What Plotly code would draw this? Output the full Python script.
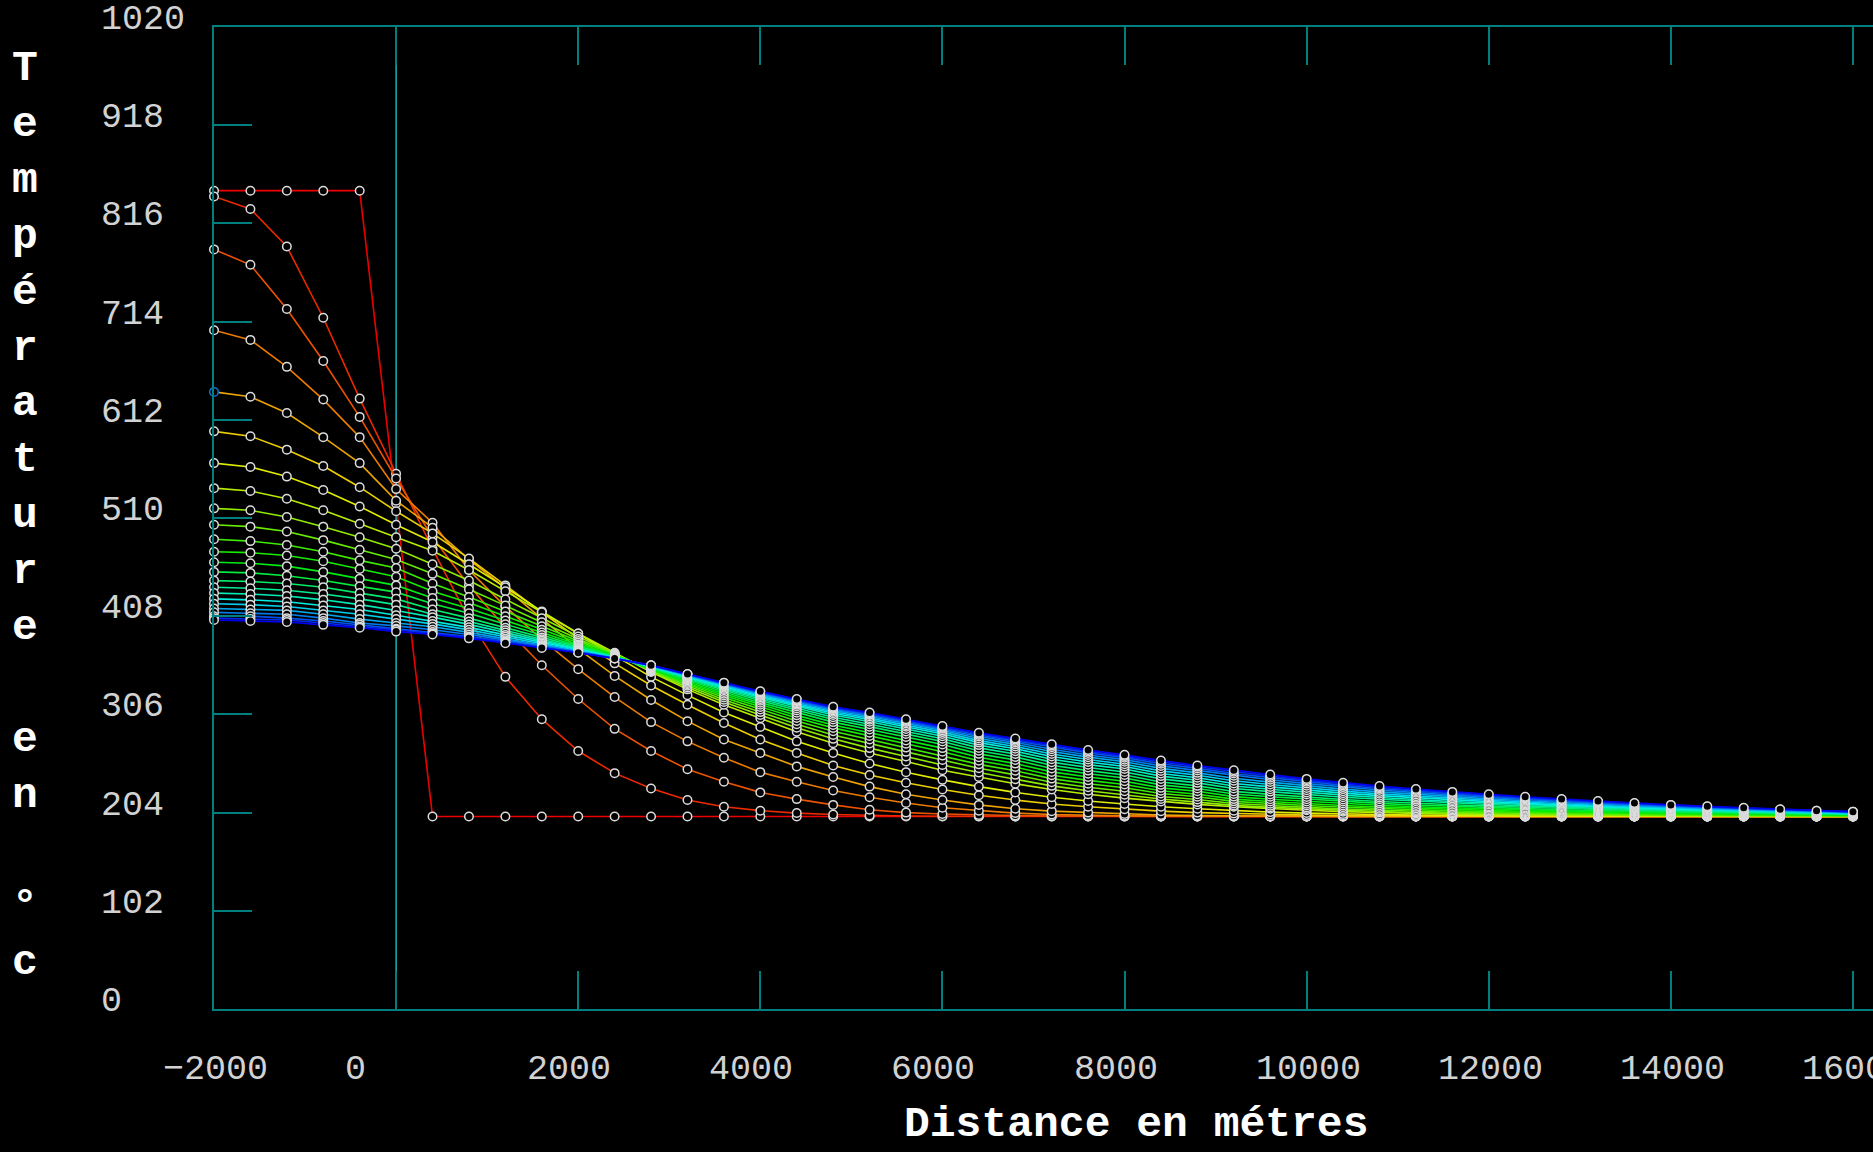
import colorsys
import plotly.graph_objects as go

# ---------------- data ----------------
distance_m = [-2000, -1600, -1200, -800, -400, 0, 400, 800, 1200, 1600, 2000, 2400,
              2800, 3200, 3600, 4000, 4400, 4800, 5200, 5600, 6000, 6400, 6800, 7200,
              7600, 8000, 8400, 8800, 9200, 9600, 10000, 10400, 10800, 11200, 11600,
              12000, 12400, 12800, 13200, 13600, 14000, 14400, 14800, 15200, 15600, 16000]

serie_00 = [850, 850, 850, 850, 850, 525, 200, 200, 200, 200, 200, 200, 200, 200, 200, 200,
            200, 200, 200, 200, 200, 200, 200, 200, 200, 200, 200, 200, 200, 200, 200, 200,
            200, 200, 200, 200, 200, 200, 200, 200, 200, 200, 200, 200, 200, 200]
serie_01 = [844, 831, 792, 718, 634, 556, 478, 405, 345, 301, 268, 245, 229, 217, 210, 206,
            203.5, 202, 201, 200.5, 200.2, 200.1, 200, 200, 200, 200, 200, 200, 200, 200, 200,
            200, 200, 200, 200, 200, 200, 200, 200, 200, 200, 200, 200, 200, 200, 200]
serie_02 = [789, 773, 727, 673, 615, 551, 490, 440, 396, 357, 322, 291, 268, 249, 236, 225,
            218, 212, 207, 204, 202.5, 201.5, 201, 200.5, 200.2, 200.1, 200, 200, 200, 200, 200,
            200, 200, 200, 200, 200, 200, 200, 200, 200, 200, 200, 200, 200, 200, 200]
serie_03 = [705, 695, 667, 633, 594, 540, 505, 456, 418, 384, 353, 324, 298, 278, 261, 246,
            236, 227, 220, 214, 209, 206, 203.5, 202, 201.2, 200.7, 200.4, 200.2, 200.1, 200,
            200, 200, 200, 200, 200, 200, 200, 200, 200, 200, 200, 200, 200, 200, 200, 200]
serie_04 = [641, 636, 619, 594, 567, 528, 500, 467, 437, 405, 374, 346, 321, 299, 280, 266,
            252, 241, 231, 223, 217, 212, 208, 205.5, 204, 202.5, 201.5, 201, 200.6, 200.3,
            200.2, 200.1, 200, 200, 200, 200, 200, 200, 200, 200, 200, 200, 200, 200, 200, 200]
serie_05 = [600, 595, 581, 564, 542, 517, 494, 468, 440, 412, 385, 359, 336, 316, 297, 280,
            266, 253, 243, 235, 228, 222, 217, 213, 210, 207.5, 205.5, 204, 203, 202, 201.5,
            201, 200.7, 200.5, 200.3, 200.2, 200.1, 200.1, 200, 200, 200, 200, 200, 200, 200, 200]
serie_06 = [567, 563, 553, 539, 522, 503, 485, 462, 438, 413, 390, 367, 345, 326, 308, 293,
            278, 266, 255, 246, 238, 231, 225, 220, 216, 213, 210, 208, 206, 204.5, 203.5,
            202.5, 202, 201.5, 201, 200.8, 200.6, 200.4, 200.3, 200.2, 200.1, 200.1, 200.1,
            200, 200, 200]
serie_07 = [541, 538, 530, 518, 504, 490, 476, 456, 434, 412, 390, 370, 350, 332, 316, 302,
            288, 276, 266, 257, 248, 241, 234, 228, 223, 219, 215.5, 212.5, 210, 208, 206.5,
            205, 204, 203, 202.3, 201.8, 201.4, 201, 200.8, 200.6, 200.4, 200.3, 200.2, 200.1,
            200.1, 200]
serie_08 = [520, 518, 511, 501, 490, 478, 462, 445, 425.6, 406, 386.9, 369, 350.8, 333.9,
            318.8, 305.4, 292.1, 280.6, 271, 262.3, 253.5, 245.6, 238.7, 231.8, 226.7, 222.6,
            218.1, 214.9, 211.5, 209.4, 207.8, 206.2, 205.1, 204, 203.2, 202.6, 202.2, 201.7,
            201.4, 201.1, 200.9, 200.7, 200.6, 200.4, 200.3, 200.2]
serie_09 = [503, 501, 496, 487, 477, 467, 452, 436, 419, 401.6, 384.4, 368.5, 351.6, 335.7,
            321.3, 308.4, 295.8, 284.7, 275.7, 267.1, 258.6, 250, 243.2, 235.5, 230.4, 226.2,
            220.8, 217.6, 213.4, 211.2, 209.4, 207.7, 206.5, 205.3, 204.4, 203.7, 203.1, 202.5,
            202.2, 201.8, 201.4, 201.2, 201, 200.8, 200.6, 200.5]
serie_10 = [488, 486, 482, 475, 466, 458, 442, 428, 413, 397.6, 382.2, 368, 352.3, 337.3,
            323.6, 311.2, 299.2, 288.5, 279.9, 271.5, 263.2, 254.1, 247.4, 239.3, 234, 229.8,
            223.8, 220.4, 215.7, 213.3, 211.4, 209.5, 208.1, 206.8, 205.8, 205, 204.3, 203.6,
            203.1, 202.6, 202.1, 201.8, 201.5, 201.2, 201, 200.8]
serie_11 = [475, 474, 471, 465, 457, 449, 434, 422, 408, 394, 380.3, 367, 352.9, 338.7,
            325.7, 313.8, 302.3, 292, 283.6, 275.5, 267.3, 257.9, 251.3, 242.8, 237.5, 233.2,
            226.7, 223.1, 218, 215.5, 213.3, 211.3, 209.8, 208.4, 207.2, 206.3, 205.4, 204.6,
            204, 203.4, 202.8, 202.4, 202, 201.7, 201.3, 201.1]
serie_12 = [464, 463, 460, 454, 447, 440, 427, 416, 403.5, 391, 378.7, 367, 353.5, 340,
            327.5, 316, 305, 295, 287, 279, 271, 261.5, 254.9, 246.3, 240.9, 236.6, 229.7,
            226.1, 220.6, 217.9, 215.6, 213.4, 211.7, 210.1, 208.8, 207.7, 206.8, 205.8, 205.1,
            204.4, 203.6, 203.2, 202.7, 202.2, 201.8, 201.4]
serie_13 = [454, 453, 450, 445, 439, 433, 421, 411, 399.7, 388.5, 377.3, 366, 354, 341.3,
            329.3, 318.2, 307.7, 298, 290.4, 282.5, 274.7, 265, 258.6, 249.9, 244.4, 239.9,
            232.8, 229, 223.3, 220.4, 217.9, 215.5, 213.6, 211.9, 210.4, 209.2, 208.1, 207,
            206.1, 205.3, 204.5, 203.9, 203.3, 202.7, 202.2, 201.8]
serie_14 = [445, 444, 442, 438, 432, 426, 415, 406, 396, 386, 376, 366, 354.5, 342.4, 331,
            320.2, 310.1, 300.7, 293.3, 285.6, 277.9, 268.3, 261.8, 253.1, 247.6, 243.1, 235.8,
            231.8, 226, 222.9, 220.2, 217.6, 215.6, 213.7, 212.1, 210.7, 209.4, 208.1, 207.2,
            206.2, 205.3, 204.6, 203.9, 203.2, 202.6, 202.1]
serie_15 = [438, 437, 435, 431, 426, 420, 410, 402.5, 393.3, 384, 375, 365.5, 355, 343.4,
            332.3, 321.9, 312.1, 303, 295.8, 288.2, 280.7, 271.2, 264.9, 256.4, 250.8, 246.2,
            239, 234.9, 229, 225.8, 222.8, 220, 217.8, 215.8, 213.9, 212.4, 211, 209.5, 208.4,
            207.3, 206.2, 205.4, 204.6, 203.8, 203, 202.5]
serie_16 = [432, 431, 429, 425, 420, 414, 407, 399.5, 391, 382.5, 374, 365, 355.4, 344.3,
            333.7, 323.6, 314.2, 305.3, 298.3, 290.9, 283.4, 274.1, 267.8, 259.5, 253.8, 249.2,
            241.9, 237.6, 231.7, 228.2, 225, 222.1, 219.7, 217.5, 215.5, 213.9, 212.3, 210.7,
            209.5, 208.2, 207, 206.1, 205.2, 204.3, 203.5, 202.9]
serie_17 = [426, 425, 423, 419, 415, 409, 403, 396.4, 388.6, 381, 373.2, 365, 355.7, 345.1,
            334.9, 325, 315.9, 307.2, 300.4, 293.1, 285.7, 276.7, 270.4, 262.3, 256.6, 251.9,
            244.6, 240.2, 234.3, 230.7, 227.3, 224.2, 221.6, 219.3, 217.1, 215.4, 213.6, 211.9,
            210.5, 209.2, 207.8, 206.8, 205.8, 204.8, 203.9, 203.2]
serie_18 = [421, 420, 418, 414, 410, 405, 400, 393.8, 386.7, 379.6, 372.5, 364.8, 356, 345.8,
            335.8, 326.1, 317.2, 308.7, 302.1, 294.8, 287.6, 278.8, 272.7, 264.9, 259.1, 254.3,
            247.3, 242.8, 237, 233.2, 229.6, 226.3, 223.5, 221.1, 218.8, 216.9, 215, 213.1,
            211.6, 210.1, 208.6, 207.5, 206.4, 205.4, 204.3, 203.6]
serie_19 = [416, 415, 414, 410, 405, 401, 397, 391.2, 384.7, 378.2, 371.7, 364.5, 356.3,
            346.4, 336.7, 327.2, 318.6, 310.2, 303.8, 296.6, 289.4, 281, 274.9, 267.5, 261.6,
            256.8, 249.9, 245.3, 239.6, 235.7, 231.9, 228.4, 225.5, 222.9, 220.4, 218.3, 216.3,
            214.3, 212.7, 211.1, 209.4, 208.3, 207.1, 205.9, 204.7, 203.9]
serie_20 = [412, 411, 410, 406, 401, 398, 394, 389, 383, 377.1, 371.2, 364.3, 356.5, 347,
            337.5, 328.2, 319.8, 311.5, 305.3, 298.1, 291, 283, 276.9, 269.8, 263.9, 259, 252.5,
            247.7, 242.3, 238.2, 234.1, 230.5, 227.4, 224.7, 222, 219.8, 217.6, 215.5, 213.7,
            212, 210.3, 209, 207.7, 206.4, 205.1, 204.3]
serie_21 = [408, 408, 406, 403, 399, 395, 391.5, 387, 381.6, 376, 370.6, 364.2, 356.7,
            347.4, 338.1, 328.9, 320.6, 312.5, 306.3, 299.2, 292.2, 284.6, 278.5, 271.9, 266,
            261.1, 254.7, 249.9, 244.6, 240.3, 236.1, 232.3, 229, 226.2, 223.4, 221.1, 218.8,
            216.5, 214.6, 212.8, 211, 209.6, 208.2, 206.8, 205.5, 204.6]
serie_22 = [406, 405, 404, 401, 397, 394, 390, 386, 380.8, 375.5, 370.3, 364.1, 356.9,
            347.7, 338.5, 329.4, 321.3, 313.2, 307.2, 300.1, 293.1, 285.9, 279.8, 273.6, 267.6,
            262.7, 256.5, 251.6, 246.5, 242.1, 237.7, 233.8, 230.4, 227.5, 224.6, 222.2, 219.7,
            217.3, 215.4, 213.5, 211.5, 210.1, 208.6, 207.2, 205.8, 204.8]
serie_23 = [404, 403, 402, 399, 396, 392, 389, 385, 380, 375, 370, 364, 357, 348, 339, 330,
            322, 314, 308, 301, 294, 287, 281, 275, 269, 264, 258, 253, 248, 243.5, 239, 235,
            231.5, 228.5, 225.5, 223, 220.5, 218, 216, 214, 212, 210.5, 209, 207.5, 206, 205]

temperature_series = [serie_00, serie_01, serie_02, serie_03, serie_04, serie_05, serie_06,
                      serie_07, serie_08, serie_09, serie_10, serie_11, serie_12, serie_13,
                      serie_14, serie_15, serie_16, serie_17, serie_18, serie_19, serie_20,
                      serie_21, serie_22, serie_23]

y_tick_values = [0, 102, 204, 306, 408, 510, 612, 714, 816, 918, 1020]
y_tick_labels = ["0", "102", "204", "306", "408", "510", "612", "714", "816", "918", "1020"]
x_tick_values = [-2000, 0, 2000, 4000, 6000, 8000, 10000, 12000, 14000, 16000]
x_tick_labels = ["\u22122000", "0", "2000", "4000", "6000", "8000", "10000", "12000",
                 "14000", "16000"]

x_title = "Distance en métres"
y_title = "Température en °c"

for idx, s in enumerate(temperature_series):
    if len(s) != len(distance_m):
        raise ValueError(f"serie {idx} has {len(s)} values")

# ---------------- styling ----------------
FRAME = "#007f7f"
ZERO_LINE = "#19b5b5"
LABEL_FONT = dict(family="Liberation Mono, DejaVu Sans Mono, monospace", size=35, color="#d2d2d2")
TITLE_FONT = dict(family="Liberation Mono, DejaVu Sans Mono, monospace", size=43, color="white",
                  weight="bold")

W, H = 1873, 1152
ML, MT, MB = 214, 27, 143
PW, PH = W - ML, H - MT - MB

fig = go.Figure()
n = len(temperature_series)
for k, serie in enumerate(temperature_series):
    r, g, b = colorsys.hsv_to_rgb((240.0 * k / (n - 1)) / 360.0, 1.0, 0.93)
    color = f"rgb({int(r * 255)},{int(g * 255)},{int(b * 255)})"
    mline = ["#dcdcdc"] * len(serie)
    if k == 4:
        mline[0] = "#1070d0"
    fig.add_trace(go.Scatter(
        x=distance_m, y=serie, mode="lines+markers",
        line=dict(color=color, width=1.6),
        marker=dict(symbol="circle", size=8.5, color="black",
                    line=dict(color=mline, width=1.5)),
        cliponaxis=False, showlegend=False, hoverinfo="skip"))

annotations = []
for v, lab in zip(y_tick_values, y_tick_labels):
    annotations.append(dict(x=(99 - ML) / PW, xref="paper", y=v, yref="y", yshift=7,
                            xanchor="left", yanchor="middle", text=lab, showarrow=False,
                            font=LABEL_FONT))
for v, lab in zip(x_tick_values, x_tick_labels):
    annotations.append(dict(x=v, xref="x", y=(MT + PH - 1070) / PH, yref="paper", xshift=-53,
                            xanchor="left", yanchor="middle", text=lab, showarrow=False,
                            font=LABEL_FONT))
annotations.append(dict(x=(1136 - ML) / PW, xref="paper", y=(MT + PH - 1124) / PH, yref="paper",
                        xanchor="center", yanchor="middle", text=x_title, showarrow=False,
                        font=TITLE_FONT))
annotations.append(dict(x=(25 - ML) / PW, xref="paper", y=(MT + PH - 515) / PH, yref="paper",
                        xanchor="center", yanchor="middle",
                        text="<br>".join(ch if ch != " " else "\u00a0" for ch in y_title),
                        showarrow=False, font=TITLE_FONT))

axis_common = dict(showticklabels=False, ticks="inside", ticklen=38, tickwidth=1.5,
                   tickcolor=FRAME, showline=True, linecolor=FRAME, linewidth=1.5,
                   showgrid=False, zeroline=False)

fig.update_layout(
    width=W, height=H, paper_bgcolor="black", plot_bgcolor="black",
    margin=dict(l=ML, r=0, t=MT, b=MB, pad=0), showlegend=False,
    xaxis=dict(range=[-2000, 16220], tickvals=x_tick_values, mirror="ticks", **axis_common),
    yaxis=dict(range=[0, 1020], tickvals=y_tick_values, **axis_common),
    annotations=annotations,
    shapes=[dict(type="line", xref="x", yref="paper", x0=0, x1=0, y0=0, y1=1,
                 line=dict(color=ZERO_LINE, width=1.5), layer="below")],
)

page_fix = ("document.documentElement.style.margin='0';document.body.style.margin='0';"
            "document.body.style.background='black';document.body.style.overflow='hidden';")
fig.write_html("out.html", post_script=page_fix, config={"displayModeBar": False})
